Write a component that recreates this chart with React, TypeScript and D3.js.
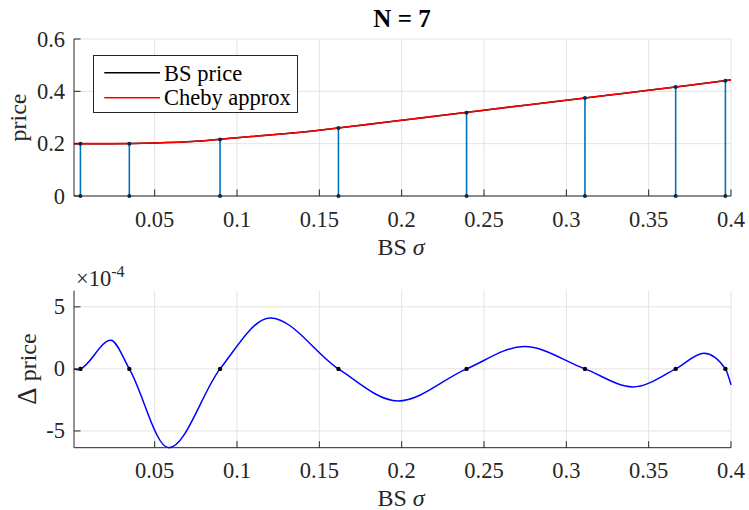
import React from "react";
import * as d3 from "d3";

const W = 749;
const H = 510;

// BS price curve
const sigmaGrid = [0.001, 0.025, 0.05, 0.075, 0.1, 0.125, 0.15, 0.175, 0.2, 0.225, 0.25, 0.275, 0.3, 0.325, 0.35, 0.375, 0.4];
const bsPrice = [0.2, 0.2, 0.2025, 0.209, 0.2225, 0.236, 0.2515, 0.27, 0.2895, 0.3085, 0.328, 0.347, 0.366, 0.385, 0.404, 0.4235, 0.4435];
const chebyPrice = [0.2, 0.2, 0.2025, 0.209, 0.2225, 0.236, 0.2515, 0.27, 0.2895, 0.3085, 0.328, 0.347, 0.366, 0.385, 0.404, 0.4235, 0.4435];

// Chebyshev nodes and prices at nodes
const nodes = [0.0049, 0.0346, 0.0897, 0.1616, 0.2394, 0.3113, 0.3664, 0.3966];
const nodePrice = [0.2, 0.2, 0.2157, 0.26, 0.3185, 0.3742, 0.4168, 0.4408];

// Error curve (x 1e-4)
const errSigma = [0.001, 0.003, 0.0049, 0.0233, 0.0346, 0.0585, 0.0897, 0.1202, 0.1616, 0.1977, 0.2394, 0.2743, 0.3113, 0.3404, 0.3664, 0.3836, 0.3966, 0.4];
const errValue = [0, -0.07, 0, 2.31, 0, -6.35, 0, 4.11, 0, -2.58, 0, 1.8, 0, -1.45, 0, 1.27, 0, -1.29];

const xTicks = [0.05, 0.1, 0.15, 0.2, 0.25, 0.3, 0.35, 0.4];
const yTicksTop = [0, 0.2, 0.4, 0.6];
const yTicksBot = [-5, 0, 5];

const FONT = "Liberation Serif";
const AX = "#262626";
const GRID = "#e3e3e3";

export default function App() {
  const left = 74;
  const right = 731;
  const x = d3.scaleLinear().domain([0.001, 0.4]).range([left, right]);
  const yT = d3.scaleLinear().domain([0, 0.6]).range([196, 39]);
  const yB = d3.scaleLinear().domain([-6.35, 6.3]).range([447.7, 290.7]);

  const lineTop = d3
    .line<number>()
    .x((_, i) => x(sigmaGrid[i]))
    .y((d) => yT(d))
    .curve(d3.curveMonotoneX);
  const lineErr = d3
    .line<number>()
    .x((_, i) => x(errSigma[i]))
    .y((d) => yB(d))
    .curve(d3.curveMonotoneX);

  const fmt = (v: number) => String(+v.toFixed(4));
  const tickLen = 6.5;

  const renderGrid = (y: d3.ScaleLinear<number, number>, yTicks: number[], top: number, bottom: number) => (
    <g>
      {xTicks.map((t) => (
        <line key={"gx" + t} x1={x(t)} x2={x(t)} y1={top} y2={bottom} stroke={GRID} strokeWidth={1} />
      ))}
      {yTicks.map((t) => (
        <line key={"gy" + t} x1={left} x2={right} y1={y(t)} y2={y(t)} stroke={GRID} strokeWidth={1} />
      ))}
    </g>
  );

  const renderFrame = (y: d3.ScaleLinear<number, number>, yTicks: number[], top: number, bottom: number) => (
    <g>
      <line x1={left} x2={left} y1={top} y2={bottom} stroke={AX} strokeWidth={1} />
      <line x1={left} x2={right} y1={bottom} y2={bottom} stroke={AX} strokeWidth={1} />
      {xTicks.map((t) => (
        <g key={"tx" + t}>
          <line x1={x(t)} x2={x(t)} y1={bottom} y2={bottom - tickLen} stroke={AX} strokeWidth={1} />
          <text x={x(t)} y={bottom + 30.5} textAnchor="middle" fontSize={22.5} fill={AX} fontFamily={FONT}>
            {fmt(t)}
          </text>
        </g>
      ))}
      {yTicks.map((t) => (
        <g key={"ty" + t}>
          <line x1={left} x2={left + tickLen} y1={y(t)} y2={y(t)} stroke={AX} strokeWidth={1} />
          <text x={65} y={y(t) + 7.5} textAnchor="end" fontSize={22.5} fill={AX} fontFamily={FONT}>
            {fmt(t)}
          </text>
        </g>
      ))}
    </g>
  );

  return (
    <svg width={W} height={H} style={{ position: "absolute", left: 0, top: 0, background: "#fff" }}>
      <rect x={0} y={0} width={W} height={H} fill="#fff" />
      {/* Top panel */}
      {renderGrid(yT, yTicksTop, 39, 196)}
      {nodes.map((n, i) => (
        <line key={"st" + i} x1={x(n)} x2={x(n)} y1={yT(0)} y2={yT(nodePrice[i])} stroke="#0072BD" strokeWidth={1.6} />
      ))}
      <path d={lineTop(bsPrice) || ""} fill="none" stroke="#000" strokeWidth={1.5} />
      <path d={lineTop(chebyPrice) || ""} fill="none" stroke="#f00" strokeWidth={1.6} />
      {nodes.map((n, i) => (
        <g key={"mk" + i}>
          <circle cx={x(n)} cy={yT(0)} r={2} fill="#0a2a44" />
          <circle cx={x(n)} cy={yT(nodePrice[i])} r={2} fill="#0a2a44" />
        </g>
      ))}
      {renderFrame(yT, yTicksTop, 39, 196)}
      <text x={402} y={27} textAnchor="middle" fontSize={25} fontWeight="bold" fill="#000" fontFamily={FONT}>
        N = 7
      </text>
      <text x={401} y={255} textAnchor="middle" fontSize={24} fill={AX} fontFamily={FONT}>
        BS <tspan fontStyle="italic">σ</tspan>
      </text>
      <text transform="translate(26,117.5) rotate(-90)" textAnchor="middle" fontSize={24} fill={AX} fontFamily={FONT}>
        price
      </text>
      {/* Legend */}
      <rect x={93.5} y={55.5} width={204} height={57} fill="#fff" stroke={AX} strokeWidth={1} />
      <line x1={104.3} x2={160} y1={72.7} y2={72.7} stroke="#000" strokeWidth={1.5} />
      <line x1={104.3} x2={160} y1={97.7} y2={97.7} stroke="#f00" strokeWidth={1.6} />
      <text x={164} y={80.5} fontSize={22.5} fill="#000" fontFamily={FONT}>BS price</text>
      <text x={164} y={105} fontSize={22.5} fill="#000" fontFamily={FONT}>Cheby approx</text>

      {/* Bottom panel */}
      {renderGrid(yB, yTicksBot, 290.7, 447.7)}
      <path d={lineErr(errValue) || ""} fill="none" stroke="#0000ff" strokeWidth={1.5} />
      {nodes.map((n, i) => (
        <circle key={"bm" + i} cx={x(n)} cy={yB(0)} r={2.2} fill="#000" />
      ))}
      {renderFrame(yB, yTicksBot, 290.7, 447.7)}
      <text x={76} y={286} fontSize={22.5} fill={AX} fontFamily={FONT}>
        ×10<tspan dy={-9} fontSize={16}>-4</tspan>
      </text>
      <text x={401} y={506} textAnchor="middle" fontSize={24} fill={AX} fontFamily={FONT}>
        BS <tspan fontStyle="italic">σ</tspan>
      </text>
      <text transform="translate(36,369) rotate(-90)" textAnchor="middle" fontSize={24} fill={AX} fontFamily={FONT}>
        <tspan fontSize={27}>Δ</tspan> price
      </text>
    </svg>
  );
}
